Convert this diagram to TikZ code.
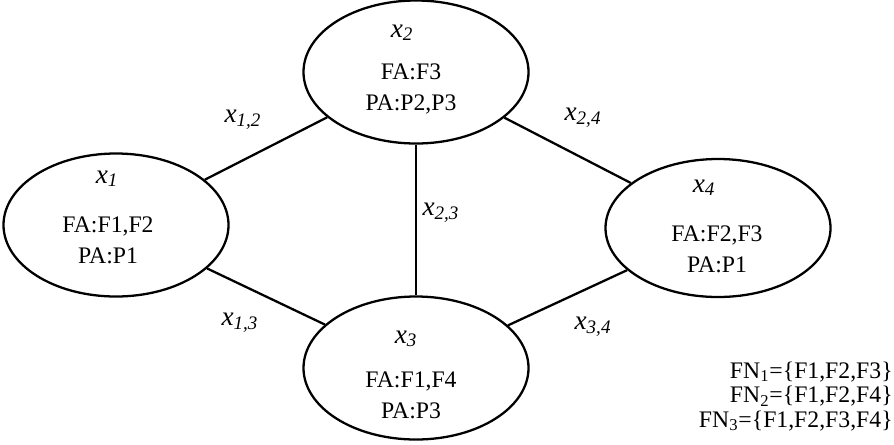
\documentclass[tikz,border=0pt]{standalone}
\usepackage{fontspec}
\setmainfont{Liberation Serif}
\usetikzlibrary{shapes.geometric}
\newcommand{\bodyfont}{\fontsize{13.5}{17.5}\selectfont}
\newcommand{\headfont}{\fontsize{15.5}{18}\selectfont}
\newcommand{\vname}[1]{\textit{x}\textsubscript{\textit{#1}}}
\tikzset{
 every node/.append style={text=black,align=center},
 vertex/.style={draw=black,ellipse,line width=1.3pt,minimum width=4.5cm,minimum height=2.86cm,inner sep=0pt},
 head/.style={font=\headfont,anchor=base,inner sep=1pt},
 body/.style={font=\bodyfont,anchor=base,inner sep=1pt},
 elabel/.style={font=\headfont,inner sep=1pt},
 link/.style={draw=black,line width=1.3pt},
}

\begin{document}
\begin{tikzpicture}

\useasboundingbox (0,0) rectangle (17.88,-8.88);
\node[vertex] (x1) at (2.32,-4.50) {};
\node[vertex] (x2) at (8.32,-1.44) {};
\node[vertex] (x3) at (8.32,-7.36) {};
\node[vertex,minimum height=2.76cm] (x4) at (14.36,-4.56) {};

% titles, then two text lines (base = last line)
\node[head] (x1h) at (2.14,-3.66) {\vname{1}};
\node[body] (x1b) at (2.16,-5.26) {FA:F1,F2\\PA:P1};
\node[head] (x2h) at (8.04,-0.74) {\vname{2}};
\node[body] (x2b) at (8.22,-2.20) {FA:F3\\PA:P2,P3};
\node[head] (x3h) at (8.12,-6.86) {\vname{3}};
\node[body] (x3b) at (8.22,-8.36) {FA:F1,F4\\PA:P3};
\node[head] (x4h) at (14.08,-3.84) {\vname{4}};
\node[body] (x4b) at (14.34,-5.44) {FA:F2,F3\\PA:P1};

\draw[link] (x1) -- (x2);
\draw[link] (x1) -- (x3);
\draw[link] (x2) -- (x3);
\draw[link] (x2) -- (x4);
\draw[link] (x3) -- (x4);

\node[elabel] (l12) at (4.86,-2.40) {\vname{1,2}};
\node[elabel] (l13) at (4.80,-6.46) {\vname{1,3}};
\node[elabel] (l23) at (8.82,-4.26) {\vname{2,3}};
\node[elabel] (l24) at (11.66,-2.36) {\vname{2,4}};
\node[elabel] (l34) at (11.86,-6.54) {\vname{3,4}};

\node[font=\fontsize{13.5}{13.9}\selectfont,align=right,anchor=base east,inner sep=0pt] (fn) at (17.86,-8.54)
 {FN\textsubscript{1}=\{F1,F2,F3\}\\FN\textsubscript{2}=\{F1,F2,F4\}\\FN\textsubscript{3}=\{F1,F2,F3,F4\}};

\end{tikzpicture}
\end{document}
